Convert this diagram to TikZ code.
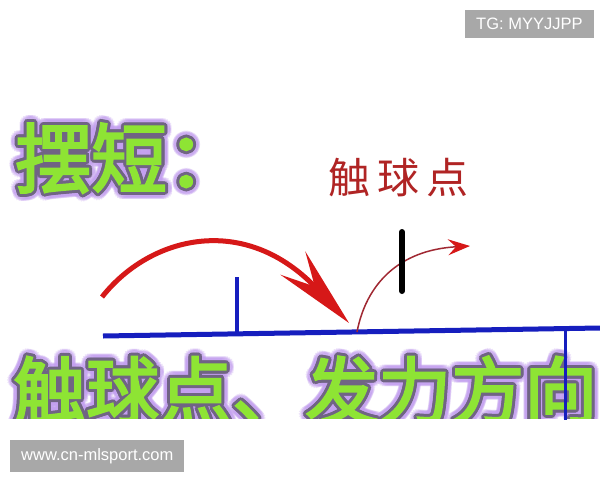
\documentclass[tikz,border=0pt]{standalone}
\usepackage{fontspec}
\setsansfont{Liberation Sans}
\newfontfamily\cjk{Noto Sans CJK SC}
\newfontfamily\cjkfat{Noto Sans CJK SC}[FakeBold=3]
\usetikzlibrary{arrows.meta}
\definecolor{limegreen}{RGB}{142,228,52}
\definecolor{rimgray}{RGB}{112,100,132}
\definecolor{haze}{RGB}{196,160,240}
\definecolor{netblue}{RGB}{22,30,190}
\definecolor{arcred}{RGB}{214,24,24}
\definecolor{thinred}{RGB}{160,40,50}
\definecolor{inkred}{RGB}{176,36,36}
\definecolor{tagbox}{RGB}{168,168,168}
\tikzset{
BIGTXT/.style={inner sep=0pt,anchor=base west,font=\cjkfat\fontsize{#1}{#1}\selectfont},
BIGTXT/.default=76,
NET/.style ={draw=netblue,line cap=butt,line width=#1},
NET/.default=5pt,
TAG/.style={fill=tagbox,text=white,font=\sffamily\fontsize{16.5}{16.5}\selectfont,inner xsep=11pt,inner ysep=8pt,anchor=north west},
}
\newcommand{\GLOW}[4]{% name, position, size, text
	\foreach \a in {0,20,...,340}
		\node[BIGTXT=#3,text=haze,text opacity=0.3,xshift={7*cos(\a)},yshift={7*sin(\a)}] at (#2) {#4};
	\foreach \a in {0,30,...,330}
		\node[BIGTXT=#3,text=rimgray,xshift={3*cos(\a)},yshift={3*sin(\a)}] at (#2) {#4};
	\node[BIGTXT=#3,text=limegreen] (#1) at (#2) {#4};
}

\begin{document}
\begin{tikzpicture}[x=1pt,y=-1pt]
	\fill[white] (0,0) rectangle (600,480);
	\useasboundingbox (0,0) rectangle (600,480);
	%tags
	\node[TAG] (tg) at (465,10) {TG: MYYJJPP};
	\node[TAG] (site) at (10,440) {www.cn-mlsport.com};
	%title
	\GLOW{title}{15,187}{76}{摆短：}
	\node[anchor=base west,inner sep=0pt,text=inkred,font=\cjk\fontsize{42}{42}\selectfont] (label) at (328,193) {触\hspace{7pt}球\hspace{7pt}点};
	%table
	\coordinate (netL) at (103,336);
	\coordinate (netR) at (600,328);
	\path[NET] (netL) -- (netR);
	\coordinate (post) at (237,277);
	\path[NET=4pt] (post) -- (237,334);
	%caption
	\begin{scope}
		\clip (0,340) rectangle (600,418);
		\GLOW{caption}{13,418}{73}{触球点、发力方向}
	\end{scope}
	\coordinate (edge) at (565,329);
	\path[NET=3pt] (edge) -- (565,420);
	%ball path
	\coordinate (start) at (102,297);
	\coordinate (hit) at (349,323);
	\coordinate (bounce) at (357,332);
	\coordinate (away) at (470,246);
	\draw[arcred,line width=5pt,-{Stealth[length=82pt,width=34pt,inset=32pt]}]
		(start) .. controls (150,236) and (245,212) .. (hit);
	\draw[thinred,line width=1.5pt,-{Stealth[length=22pt,width=16pt,inset=8pt,color=arcred,fill=arcred]}]
		(bounce) .. controls (366,285) and (398,250) .. (away);
	%bat
	\coordinate (batT) at (402,232);
	\coordinate (batB) at (402,291);
	\draw[black,line width=6pt,line cap=round] (batT) -- (batB);
\end{tikzpicture}
\end{document}
